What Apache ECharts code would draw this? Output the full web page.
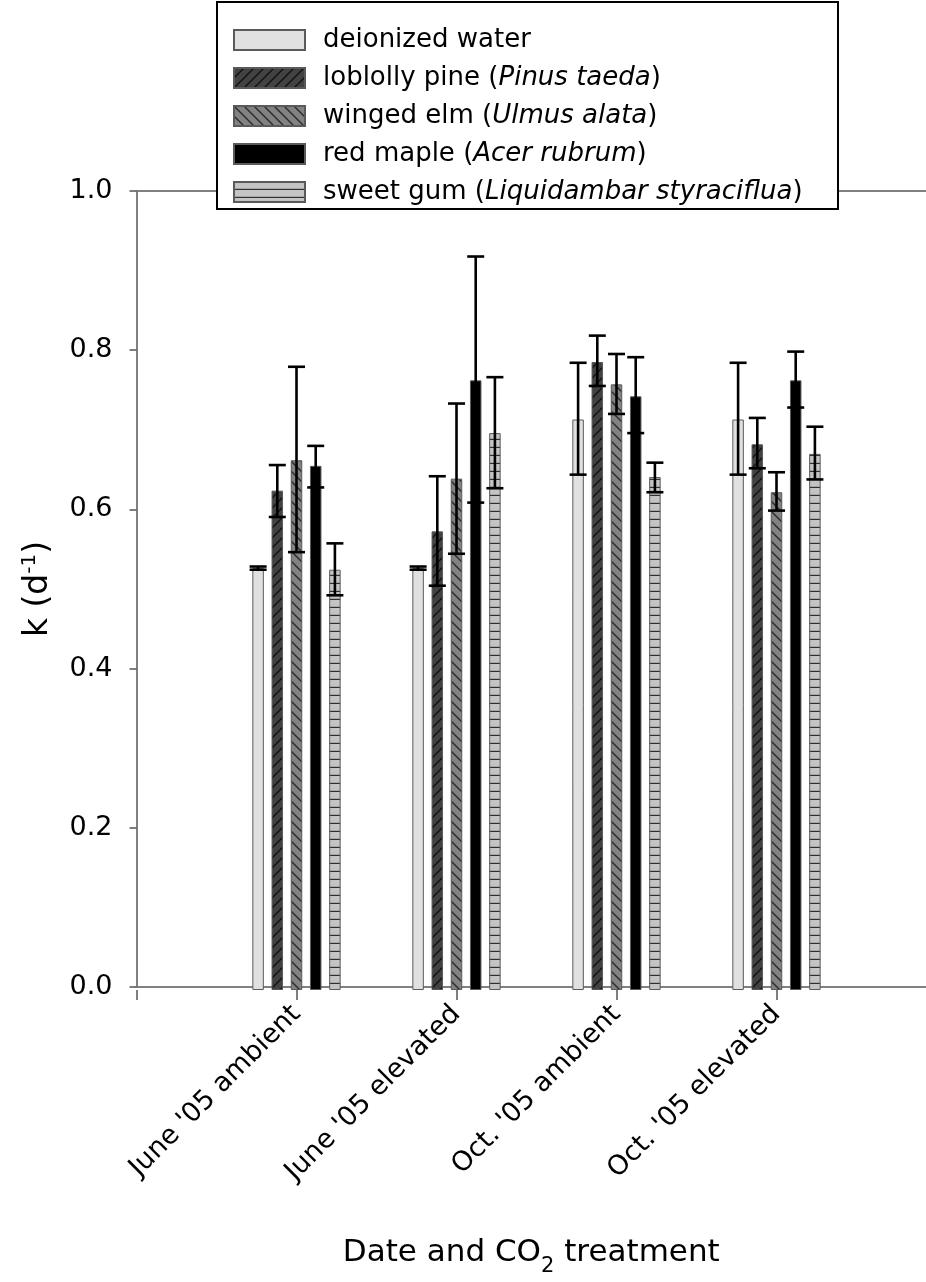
<!DOCTYPE html>
<html>
<head>
<meta charset="utf-8">
<script src="https://cdn.jsdelivr.net/npm/echarts@6/dist/echarts.min.js"></script>
<style>
html,body{margin:0;padding:0;background:#fff;}
#chart{width:926px;height:1282px;}
</style>
</head>
<body>
<div id="chart"></div>
<script>
// ---- data ----
const categories = ["June '05 ambient", "June '05 elevated", "Oct. '05 ambient", "Oct. '05 elevated"];
const seriesNames = ["deionized water", "loblolly pine", "winged elm", "red maple", "sweet gum"];
const seriesLatin = ["", "Pinus taeda", "Ulmus alata", "Acer rubrum", "Liquidambar styraciflua"];
const yTicks = [0, 0.2, 0.4, 0.6, 0.8, 1.0];

const waterMean  = [0.528, 0.528, 0.714, 0.714];
const waterUpper = [0.530, 0.530, 0.785, 0.785];
const waterLower = [0.526, 0.526, 0.645, 0.645];

const pineMean  = [0.625, 0.574, 0.786, 0.683];
const pineUpper = [0.657, 0.643, 0.819, 0.716];
const pineLower = [0.592, 0.506, 0.756, 0.653];

const elmMean  = [0.663, 0.640, 0.758, 0.623];
const elmUpper = [0.780, 0.734, 0.796, 0.648];
const elmLower = [0.548, 0.546, 0.721, 0.600];

const mapleMean  = [0.656, 0.763, 0.743, 0.763];
const mapleUpper = [0.681, 0.918, 0.792, 0.799];
const mapleLower = [0.629, 0.610, 0.697, 0.729];

const gumMean  = [0.526, 0.697, 0.642, 0.671];
const gumUpper = [0.559, 0.767, 0.660, 0.705];
const gumLower = [0.494, 0.628, 0.623, 0.639];

const means  = [waterMean, pineMean, elmMean, mapleMean, gumMean];
const uppers = [waterUpper, pineUpper, elmUpper, mapleUpper, gumUpper];
const lowers = [waterLower, pineLower, elmLower, mapleLower, gumLower];

// ---- styles ----
const FONT = 'DejaVu Sans';
function pattern(bg, line, kind) {
  const s = kind === 'h' ? 8 : 10;
  const c = document.createElement('canvas');
  c.width = s; c.height = s;
  const g = c.getContext('2d');
  g.fillStyle = bg; g.fillRect(0, 0, s, s);
  g.strokeStyle = line; g.lineWidth = 1.4;
  g.beginPath();
  if (kind === 'fwd') {
    g.moveTo(0, s); g.lineTo(s, 0);
    g.moveTo(-2, 2); g.lineTo(2, -2);
    g.moveTo(s - 2, s + 2); g.lineTo(s + 2, s - 2);
  } else if (kind === 'back') {
    g.moveTo(0, 0); g.lineTo(s, s);
    g.moveTo(-2, s - 2); g.lineTo(2, s + 2);
    g.moveTo(s - 2, -2); g.lineTo(s + 2, 2);
  } else if (kind === 'h') {
    g.moveTo(0, s - 0.5); g.lineTo(s, s - 0.5);
  }
  g.stroke();
  return { image: c, repeat: 'repeat' };
}
const fills = [
  '#e0e0e0',
  pattern('#424242', '#111111', 'fwd'),
  pattern('#828282', '#2a2a2a', 'back'),
  '#000000',
  pattern('#c4c4c4', '#303030', 'h')
];
const offsets = [-38.4, -19.2, 0, 19.2, 38.4];

const chart = echarts.init(document.getElementById('chart'), null, {renderer: 'canvas'});

const barSeries = seriesNames.map((n, i) => ({
  name: n,
  type: 'bar',
  xAxisIndex: 1,
  yAxisIndex: 1,
  barWidth: 11.5,
  barGap: '67%',
  data: means[i],
  itemStyle: { color: fills[i], borderColor: '#5a5a5a', borderWidth: 1 },
  emphasis: { disabled: true },
  silent: true,
  z: 2
}));

const errData = [];
for (let s = 0; s < means.length; s++) {
  for (let c = 0; c < categories.length; c++) {
    errData.push([c, lowers[s][c], uppers[s][c], s]);
  }
}

const errSeries = {
  type: 'custom',
  xAxisIndex: 1,
  yAxisIndex: 1,
  silent: true,
  z: 5,
  data: errData,
  renderItem: function (params, api) {
    const c = api.value(0);
    const s = api.value(3);
    const lo = api.coord([c, api.value(1)]);
    const hi = api.coord([c, api.value(2)]);
    const x = lo[0] + offsets[s];
    const hw = 8.5;
    const st = { stroke: '#000', lineWidth: 2.6 };
    return {
      type: 'group',
      children: [
        { type: 'line', shape: { x1: x, y1: lo[1], x2: x, y2: hi[1] }, style: st },
        { type: 'line', shape: { x1: x - hw, y1: hi[1], x2: x + hw, y2: hi[1] }, style: st },
        { type: 'line', shape: { x1: x - hw, y1: lo[1], x2: x + hw, y2: lo[1] }, style: st }
      ]
    };
  }
};

const axisGray = '#808080';
const xMax = (926 - 136.5) / 160;

const option = {
  backgroundColor: '#fff',
  animation: false,
  textStyle: { fontFamily: FONT },
  grid: [
    { left: 136.5, right: 0, top: 191, bottom: 292 },
    { left: 216.5, width: 640, top: 191, bottom: 292 },
    { left: 136.5, width: 640, top: 191, bottom: 292 }
  ],
  xAxis: [
    {
      type: 'value', gridIndex: 0, min: 0, max: xMax, interval: 1,
      position: 'bottom',
      axisLine: { show: true, lineStyle: { color: axisGray, width: 2 } },
      axisTick: { show: false },
      axisLabel: { show: false },
      splitLine: { show: false },
      name: '{a|Date and CO}{b|2}{a| treatment}',
      nameLocation: 'middle',
      nameGap: 250,
      nameTextStyle: {
        rich: {
          a: { fontSize: 31, fontFamily: FONT, color: '#000', padding: [0, 0, 9, 0], verticalAlign: 'bottom' },
          b: { fontSize: 21, fontFamily: FONT, color: '#000', verticalAlign: 'bottom' }
        }
      }
    },
    {
      type: 'category', gridIndex: 1, data: categories, show: false,
      axisTick: { show: false }, axisLine: { show: false }, axisLabel: { show: false }
    },
    {
      type: 'value', gridIndex: 0, min: 0, max: xMax, interval: 1, position: 'top',
      axisLine: { show: true, lineStyle: { color: axisGray, width: 2 } },
      axisTick: { show: false }, axisLabel: { show: false }, splitLine: { show: false }
    },
    {
      type: 'value', gridIndex: 2, min: 0, max: categories.length, interval: 1,
      position: 'bottom',
      axisLine: { show: false },
      axisTick: { show: true, length: 10, lineStyle: { color: '#555', width: 1.5 } },
      splitLine: { show: false },
      axisLabel: {
        rotate: 45, margin: 20, fontSize: 27, color: '#000', fontFamily: FONT,
        formatter: function (v) {
          const k = Math.round(v);
          return (k >= 1 && k <= categories.length) ? categories[k - 1] : '';
        }
      }
    }
  ],
  yAxis: [
    {
      type: 'value', gridIndex: 0, min: 0, max: 1, interval: 0.2,
      axisLine: { show: true, lineStyle: { color: axisGray, width: 2 } },
      axisTick: { show: true, inside: false, length: 7, lineStyle: { color: '#555', width: 1.5 } },
      splitLine: { show: false },
      axisLabel: {
        margin: 24, fontSize: 27, color: '#000', fontFamily: FONT,
        formatter: function (v) { return yTicks.some(t => Math.abs(t - v) < 1e-9) ? v.toFixed(1) : ''; }
      },
      name: '{a|k (d}{s|-1}{a|)}',
      nameLocation: 'middle',
      nameGap: 82,
      nameRotate: 90,
      nameTextStyle: {
        rich: {
          a: { fontSize: 33, fontFamily: FONT, color: '#000', verticalAlign: 'bottom' },
          s: { fontSize: 20, fontFamily: FONT, color: '#000', verticalAlign: 'bottom', padding: [0, 0, 15, 0] }
        }
      }
    },
    { type: 'value', gridIndex: 1, min: 0, max: 1, interval: 0.2, show: false, splitLine: { show: false } },
    { type: 'value', gridIndex: 2, min: 0, max: 1, interval: 0.2, show: false, splitLine: { show: false } }
  ],
  legend: {
    data: seriesNames,
    orient: 'vertical',
    left: 228,
    top: 22,
    itemWidth: 71,
    itemHeight: 20,
    itemGap: 12,
    icon: 'rect',
    selectedMode: false,
    z: 20,
    formatter: function (name) {
      const i = seriesNames.indexOf(name);
      if (!seriesLatin[i]) return '{n|' + name + '}';
      return '{n|' + name + ' (}{i|' + seriesLatin[i] + '}{n|)}';
    },
    textStyle: {
      fontSize: 26,
      lineHeight: 26,
      padding: [0, 0, 0, 13],
      rich: {
        n: { fontSize: 26, fontFamily: FONT, color: '#000', lineHeight: 26 },
        i: { fontSize: 26, fontFamily: FONT, color: '#000', fontStyle: 'italic', lineHeight: 26 }
      }
    }
  },
  graphic: [
    {
      type: 'rect', z: 15,
      shape: { x: 217, y: 2, width: 621, height: 207 },
      style: { fill: '#fff', stroke: '#000', lineWidth: 2 }
    }
  ],
  series: barSeries.concat([errSeries])
};

chart.setOption(option);
</script>
</body>
</html>
